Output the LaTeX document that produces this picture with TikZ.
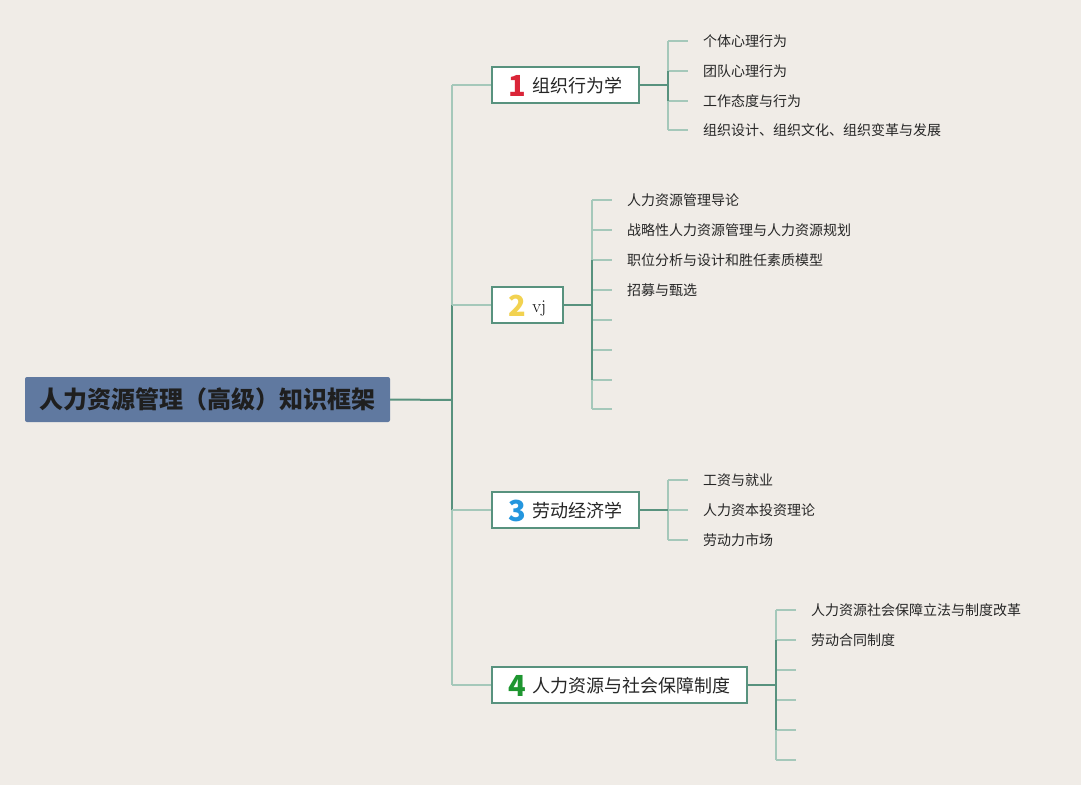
\documentclass[tikz,border=0pt]{standalone}
\usepackage{fontspec}
\newfontfamily\cjk{Noto Sans CJK SC}
\usetikzlibrary{positioning}
\definecolor{bgcol}{RGB}{240,236,231}
\definecolor{rootcol}{RGB}{96,121,160}
\definecolor{darkline}{RGB}{88,146,126}
\definecolor{lightline}{RGB}{165,200,186}
\definecolor{numred}{RGB}{218,37,56}
\definecolor{numyellow}{RGB}{242,210,80}
\definecolor{numblue}{RGB}{36,150,222}
\definecolor{numgreen}{RGB}{30,150,48}
\newcommand{\branchnum}[2]{\raisebox{-4pt}{\textcolor{#1}{\fontsize{29}{29}\selectfont\bfseries #2}}\hspace{6pt}}
\tikzset{
	every node/.style = {font=\cjk},
	rootbox/.style = {fill=rootcol, rounded corners=2pt, minimum width=365pt, minimum height=45pt,
		font=\cjk\bfseries\fontsize{24}{24}\selectfont, text=black!88},
	branchbox/.style = {draw=darkline, line width=2pt, fill=white, anchor=west, minimum height=36pt,
		inner ysep=0pt, text height=16pt, text depth=1pt, font=\cjk\fontsize{18}{18}\selectfont, text=black!85},
	leaf/.style = {inner sep=0pt, font=\cjk\fontsize{14}{14}\selectfont, text=black!85},
	tick/.style = {lightline, line width=1.5pt},
	spine/.style = {lightline, line width=1.8pt},
	dspine/.style = {darkline, line width=2pt}
}
\begin{document}
\begin{tikzpicture}[x=1pt, y=-1pt]
		\useasboundingbox[fill=bgcol] (0,0) rectangle (1081,785);
		% root
		\node[rootbox] (root) at (207.5,399.5) {人力资源管理（高级）知识框架};
		% branches
		\node[branchbox, minimum width=147pt] (b1) at (491,85) {\branchnum{numred}{1}组织行为学};
		\node[branchbox, minimum width=71pt] (b2) at (491,305) {\branchnum{numyellow}{2}{\rmfamily\color{black}vj}};
		\node[branchbox, minimum width=147pt] (b3) at (491,510) {\branchnum{numblue}{3}劳动经济学};
		\node[branchbox, minimum width=255pt] (b4) at (491,685) {\branchnum{numgreen}{4}人力资源与社会保障制度};
		% trunk
		\coordinate (rj) at (452,400);
		\foreach \y [count=\k] in {85, 305, 510, 685}
			\coordinate (tr\k) at (452,\y);
		\draw[spine] (tr1) -- (tr4);
		\draw[dspine] (tr2) -- (tr3);
		\draw[dspine] (root.east) -- (rj);
		\foreach \k in {1,...,4}
			\draw[tick] (tr\k) -- (b\k.west);
		% depth 2: spines and ticks
		\foreach \b/\x/\ys in {1/668/{41,71,101,130}, 2/592/{200,230,260,290,320,350,380,409},
				3/668/{480,510,540}, 4/776/{610,640,670,700,730,760}} {
			\foreach \y [count=\k] in \ys {
				\coordinate (s\b-\k) at (\x,\y);
				\coordinate (t\b-\k) at (\x+20,\y);
				\draw[tick] (s\b-\k) -- (t\b-\k);
			}
		}
		\draw[spine] (s1-1) -- (s1-4);
		\draw[spine] (s2-1) -- (s2-8);
		\draw[spine] (s3-1) -- (s3-3);
		\draw[spine] (s4-1) -- (s4-6);
		\draw[dspine] (s1-2) -- (s1-3);
		\draw[dspine] (s2-3) -- (s2-7);
		\draw[dspine] (s4-2) -- (s4-5);
		\foreach \b/\x in {1/668, 2/592, 3/668, 4/776} {
			\coordinate (j\b) at (\x,0 |- b\b.east);
			\draw[dspine] (b\b.east) -- (j\b);
		}
		% leaves
		\foreach \txt [count=\k] in {个体心理行为, 团队心理行为, 工作态度与行为, 组织设计、组织文化、组织变革与发展}
			\node[leaf, right=15pt of t1-\k] (l1-\k) {\txt};
		\foreach \txt [count=\k] in {人力资源管理导论, 战略性人力资源管理与人力资源规划, 职位分析与设计和胜任素质模型, 招募与甄选}
			\node[leaf, right=15pt of t2-\k] (l2-\k) {\txt};
		\foreach \txt [count=\k] in {工资与就业, 人力资本投资理论, 劳动力市场}
			\node[leaf, right=15pt of t3-\k] (l3-\k) {\txt};
		\foreach \txt [count=\k] in {人力资源社会保障立法与制度改革, 劳动合同制度}
			\node[leaf, right=15pt of t4-\k] (l4-\k) {\txt};
	\end{tikzpicture}
\end{document}
